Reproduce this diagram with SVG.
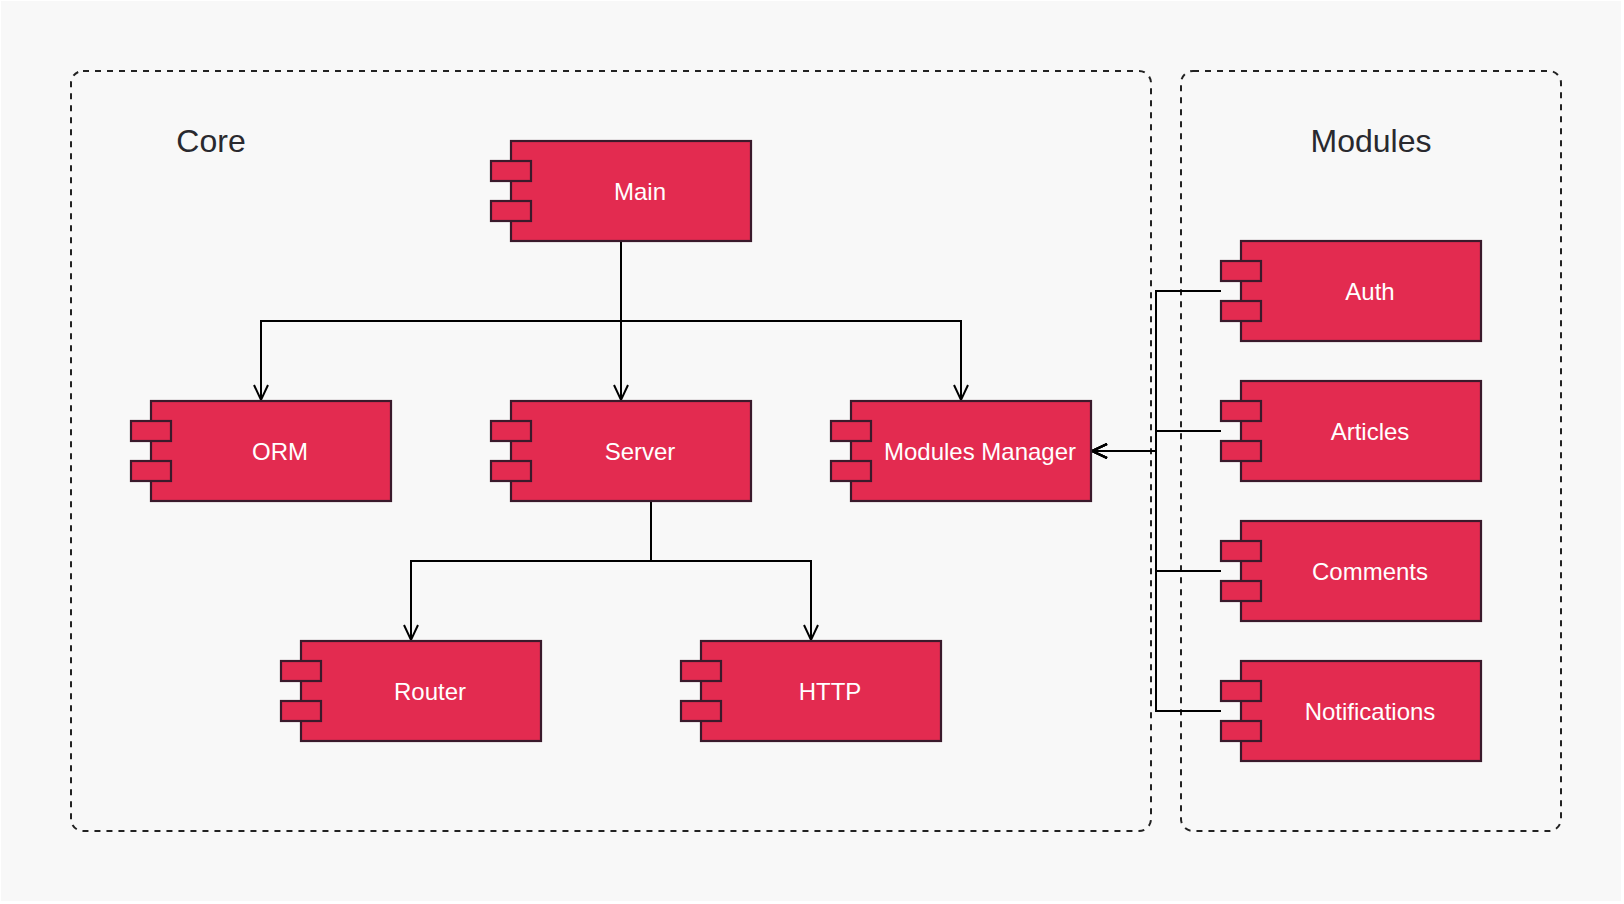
<svg xmlns="http://www.w3.org/2000/svg" width="1624" height="904" viewBox="0 0 1624 904">
<style>
.frame{fill:none;stroke:#222;stroke-width:2;stroke-dasharray:6 6}
.box{fill:#E32B50;stroke:#3A1A2B;stroke-width:2.2}
.edge{fill:none;stroke:#000;stroke-width:2;marker-end:url(#open)}
.label{font-family:"Liberation Sans",Arial,sans-serif;font-size:24px;fill:#fff;text-anchor:middle}
.title{font-family:"Liberation Sans",Arial,sans-serif;font-size:32px;fill:#29292E;text-anchor:middle}
</style>
<defs>
<marker id="open" markerUnits="userSpaceOnUse" markerWidth="24" markerHeight="24" viewBox="-20 -12 24 24" refX="0" refY="0" orient="auto">
<path d="M-15,-7 L0,0 L-15,7" fill="none" stroke="#000" stroke-width="2" stroke-miterlimit="10"/>
</marker>
<g id="component">
<rect class="box" x="20" y="0" width="240" height="100"/>
<rect class="box" x="0" y="20" width="40" height="20"/>
<rect class="box" x="0" y="60" width="40" height="20"/>
</g>
</defs>
<rect x="1" y="1" width="1620" height="900" fill="#F8F8F8"/>
<g id="core">
<rect class="frame" x="71" y="71" width="1080" height="760" rx="12" ry="12"/>
<text class="title" x="211" y="152">Core</text>
</g>
<g id="modules">
<rect class="frame" x="1181" y="71" width="380" height="760" rx="12" ry="12"/>
<text class="title" x="1371" y="152">Modules</text>
</g>
<g id="connectors">
<path class="edge" d="M621,241 V321 H261 V400"/>
<path class="edge" d="M621,241 V400"/>
<path class="edge" d="M621,241 V321 H961 V400"/>
<path class="edge" d="M651,501 V561 H411 V640"/>
<path class="edge" d="M651,501 V561 H811 V640"/>
<path class="edge" d="M1221,291 H1156 V451 H1092"/>
<path class="edge" d="M1221,431 H1156 V451 H1092"/>
<path class="edge" d="M1221,571 H1156 V451 H1092"/>
<path class="edge" d="M1221,711 H1156 V451 H1092"/>
</g>
<g id="main"><use href="#component" x="491" y="141"/><text class="label" x="640" y="200">Main</text></g>
<g id="orm"><use href="#component" x="131" y="401"/><text class="label" x="280" y="460">ORM</text></g>
<g id="server"><use href="#component" x="491" y="401"/><text class="label" x="640" y="460">Server</text></g>
<g id="modules-manager"><use href="#component" x="831" y="401"/><text class="label" x="980" y="460">Modules Manager</text></g>
<g id="router"><use href="#component" x="281" y="641"/><text class="label" x="430" y="700">Router</text></g>
<g id="http"><use href="#component" x="681" y="641"/><text class="label" x="830" y="700">HTTP</text></g>
<g id="auth"><use href="#component" x="1221" y="241"/><text class="label" x="1370" y="300">Auth</text></g>
<g id="articles"><use href="#component" x="1221" y="381"/><text class="label" x="1370" y="440">Articles</text></g>
<g id="comments"><use href="#component" x="1221" y="521"/><text class="label" x="1370" y="580">Comments</text></g>
<g id="notifications"><use href="#component" x="1221" y="661"/><text class="label" x="1370" y="720">Notifications</text></g>
</svg>
